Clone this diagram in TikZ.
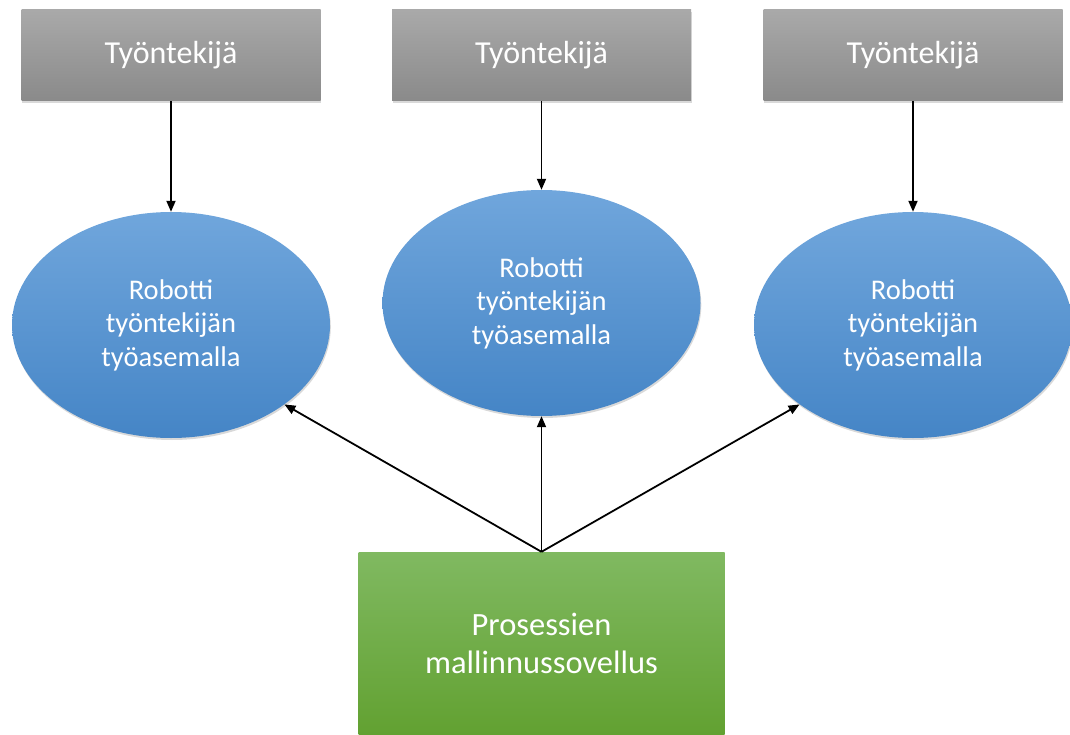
\documentclass[tikz,border=0pt]{standalone}
\usepackage{fontspec}
\setmainfont{Carlito}
\usetikzlibrary{shadows,arrows.meta,shapes.geometric}

\definecolor{grayTop}{HTML}{A9A9A9}
\definecolor{grayBot}{HTML}{8A8A8A}
\definecolor{blueTop}{HTML}{70A6DC}
\definecolor{blueBot}{HTML}{4585C6}
\definecolor{greenTop}{HTML}{80B961}
\definecolor{greenBot}{HTML}{62A131}

\tikzset{
  worker/.style={rectangle, draw=none, inner sep=0pt,
    minimum width=299pt, minimum height=91pt,
    top color=grayTop, bottom color=grayBot,
    drop shadow={opacity=0.3, shadow xshift=0.8pt, shadow yshift=-2pt},
    text=white, font=\fontsize{32}{36}\selectfont},
  robot/.style={ellipse, draw=none, inner sep=0pt,
    minimum width=318pt, minimum height=226pt,
    top color=blueTop, bottom color=blueBot,
    drop shadow={opacity=0.3, shadow xshift=0.8pt, shadow yshift=-2pt},
    text=white, align=center, font=\fontsize{28.5}{33.5}\selectfont},
  tool/.style={rectangle, draw=none, inner sep=0pt,
    minimum width=366pt, minimum height=183pt,
    top color=greenTop, bottom color=greenBot,
    text=white, align=center, font=\fontsize{32.5}{38}\selectfont},
  link/.style={line width=1.8pt, -{Triangle[length=11pt,width=9pt]}}
}

\begin{document}
\begin{tikzpicture}[x=1pt,y=1pt]
  \useasboundingbox (0,0) rectangle (1070,-735);
  \clip (0,0) rectangle (1070,-735);

  % workers on top
  \node[worker] (w1) at (171,-55.5) {\raisebox{-2pt}{Työntekijä}};
  \node[worker] (w2) at (541.5,-55.5) {\raisebox{-2pt}{Työntekijä}};
  \node[worker] (w3) at (913,-55.5) {\raisebox{-2pt}{Työntekijä}};

  % robots at the workstations
  \node[robot] (r1) at (171,-325) {Robotti\\työntekijän\\työasemalla};
  \node[robot] (r2) at (541.5,-303) {Robotti\\työntekijän\\työasemalla};
  \node[robot] (r3) at (913,-325) {Robotti\\työntekijän\\työasemalla};

  % process modelling application
  \node[tool] (p) at (541.5,-643.5) {Prosessien\\mallinnussovellus};

  % connectors
  \draw[link] (w1.south) -- (r1.north);
  \draw[link] (w2.south) -- (r2.north);
  \draw[link] (w3.south) -- (r3.north);
  \draw[link] (p.north) -- (r1.-35);
  \draw[link] (p.north) -- (r2.south);
  \draw[link] (p.north) -- (r3.-145);
\end{tikzpicture}
\end{document}
